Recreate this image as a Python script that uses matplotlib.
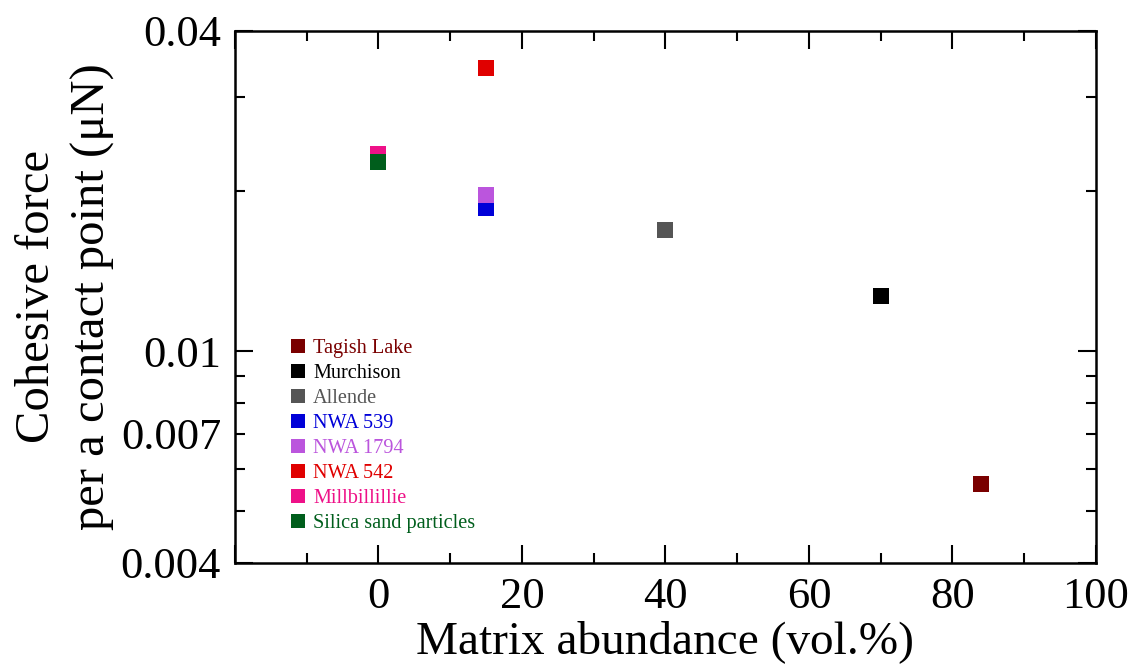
import matplotlib.pyplot as plt
import matplotlib.ticker as mticker
from matplotlib.lines import Line2D

plt.rcParams['font.family'] = ['Liberation Serif', 'DejaVu Serif']

# samples in legend order (later ones drawn on top)
names = ['Tagish Lake', 'Murchison', 'Allende', 'NWA 539', 'NWA 1794',
         'NWA 542', 'Millbillillie', 'Silica sand particles']
matrix = [84, 70, 40, 15, 15, 15, 0, 0]
force = [0.00563, 0.0127, 0.0169, 0.0186, 0.0197, 0.0341, 0.0235, 0.0227]
colors = ['#7a0000', '#000000', '#555555', '#0000d8', '#bb55dd',
          '#e00000', '#ee1188', '#005e1c']

fig = plt.figure(figsize=(11.35, 6.66), dpi=100)
ax = fig.add_axes([0.207, 0.1547, 0.7586, 0.7988])

for x, y, c in zip(matrix, force, colors):
    ax.plot(x, y, 's', color=c, markersize=11.5, markeredgewidth=0)

ax.set_yscale('log')
ax.set_xlim(-20, 100)
ax.set_ylim(0.004, 0.04)

ax.xaxis.set_major_locator(mticker.MultipleLocator(20))
ax.xaxis.set_minor_locator(mticker.MultipleLocator(10))
ax.xaxis.set_major_formatter(mticker.FuncFormatter(
    lambda v, p: '' if v < 0 else '%d' % v))

ax.yaxis.set_major_locator(mticker.FixedLocator([0.004, 0.01, 0.04]))
ax.yaxis.set_major_formatter(mticker.FixedFormatter(['0.004', '0.01', '0.04']))
ax.yaxis.set_minor_locator(mticker.FixedLocator(
    [0.005, 0.006, 0.007, 0.008, 0.009, 0.02, 0.03]))
ax.yaxis.set_minor_formatter(mticker.FuncFormatter(
    lambda v, p: '0.007' if abs(v - 0.007) < 1e-6 else ''))

for s in ax.spines.values():
    s.set_linewidth(1.8)
ax.tick_params(which='both', direction='in', top=True, right=True,
               width=1.5, labelsize=32, pad=10)
ax.tick_params(which='major', length=13)
ax.tick_params(which='minor', length=7)

ax.set_xlabel('Matrix abundance (vol.%)', fontsize=34, labelpad=2)
ax.set_ylabel('Cohesive force\nper a contact point (μN)', fontsize=35,
              labelpad=4, linespacing=1.35)

handles = [Line2D([], [], marker='s', linestyle='none', color=c,
                  markersize=9.5, markeredgewidth=0) for c in colors]
leg = ax.legend(handles, names, loc='lower left',
                bbox_to_anchor=(0.052, 0.037), frameon=False, fontsize=14.6,
                handlelength=0.8, handletextpad=0.35, labelspacing=0.29,
                borderpad=0)
for t, c in zip(leg.get_texts(), colors):
    t.set_color(c)

fig.savefig('out.png', dpi=100)
